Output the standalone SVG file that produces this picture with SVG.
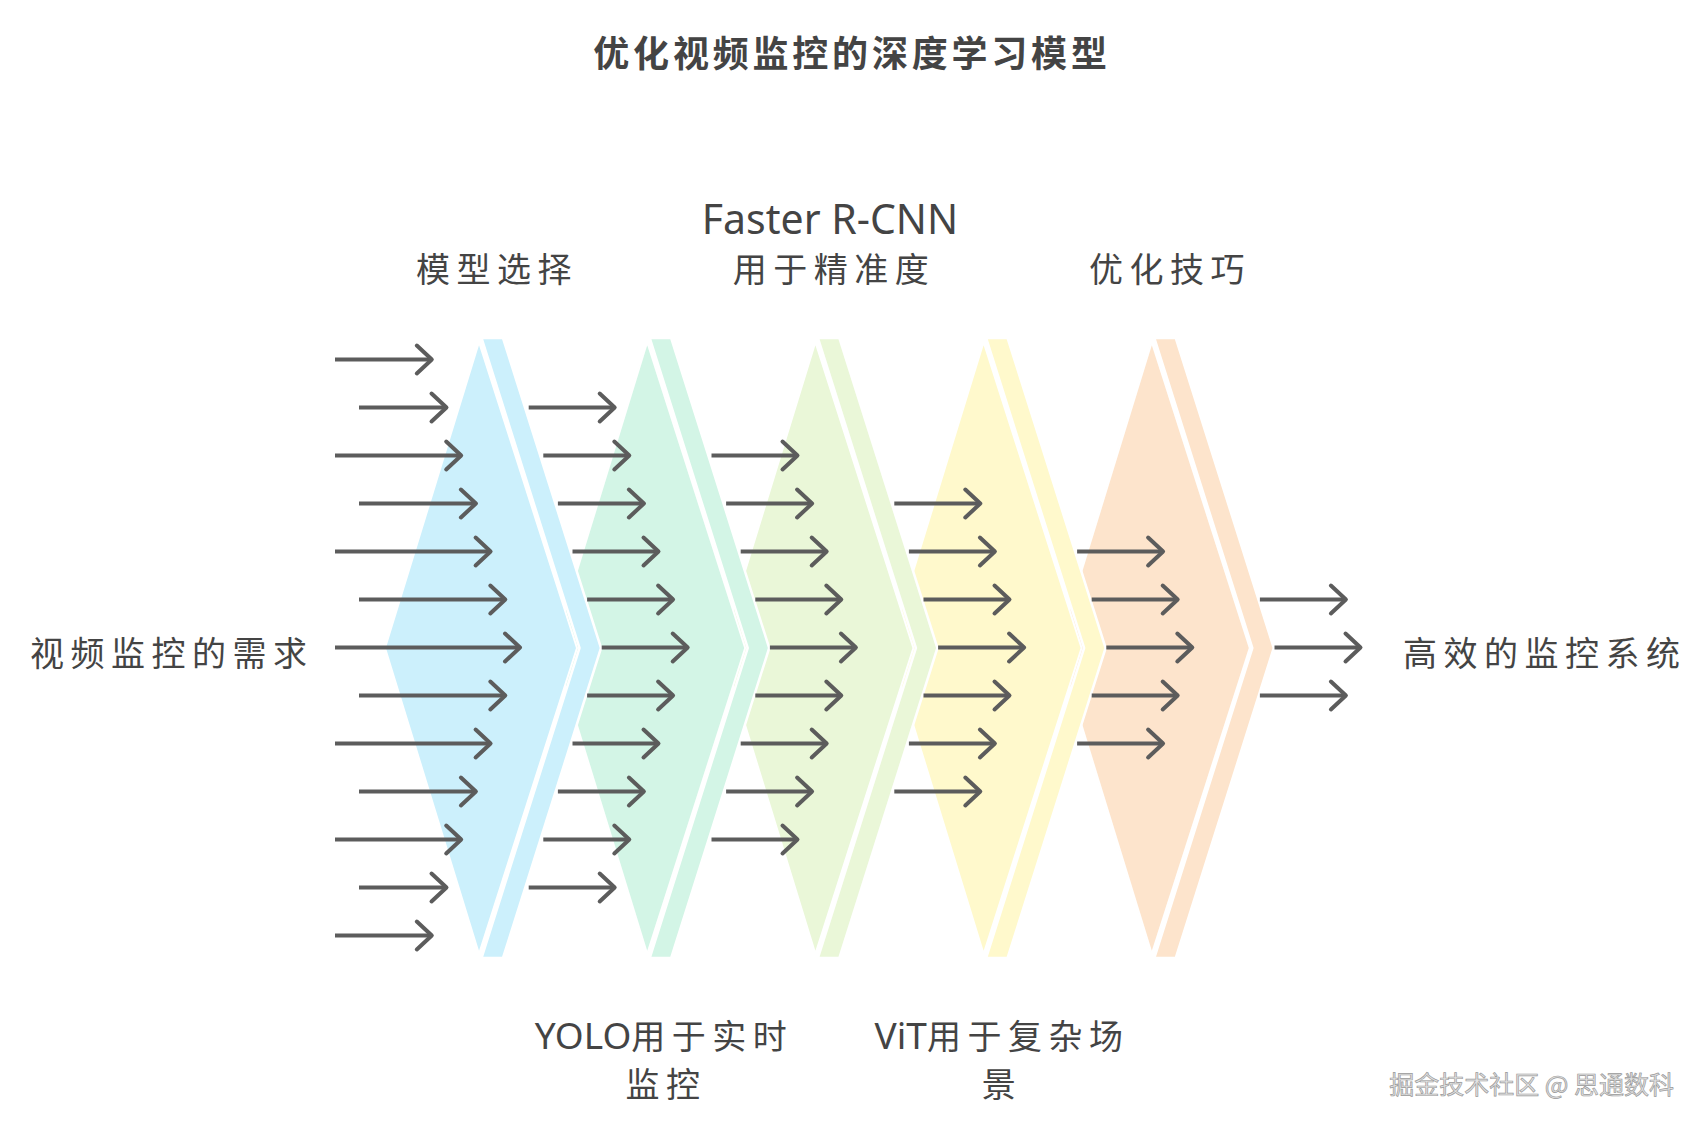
<svg xmlns="http://www.w3.org/2000/svg" width="1704" height="1129" viewBox="0 0 1704 1129">
<style>
.main{stroke:#ffffff;stroke-width:2;stroke-linejoin:round}
.band{stroke:#ffffff;stroke-width:2.5;stroke-linejoin:round}
.c0{fill:#ccf0fc}.c1{fill:#d3f5e6}.c2{fill:#eaf7d8}.c3{fill:#fff9cc}.c4{fill:#fde4cc}
.arr line{stroke:#5c5c5c;stroke-width:4;marker-end:url(#ah)}
.lbl{font-family:"Noto Sans CJK SC","Noto Sans",sans-serif;font-size:34px;fill:#444444;letter-spacing:6.5px}
.lat{font-family:"Noto Sans","Noto Sans CJK SC",sans-serif;font-size:41px;fill:#444444}
.title{font-family:"Noto Sans CJK SC",sans-serif;font-size:36px;font-weight:bold;fill:#444444;letter-spacing:3.8px}
.wm{font-family:"Noto Sans CJK SC",sans-serif;font-size:25px;fill:#e2e2e2;stroke:#9a9a9a;stroke-width:0.7px}
</style>
<defs>
<marker id="ah" markerUnits="userSpaceOnUse" viewBox="-19 -17 22 34" refX="0" refY="0" markerWidth="22" markerHeight="34" orient="auto" overflow="visible">
<path d="M-15,-14 L0,0 L-15,14" fill="none" stroke="#5c5c5c" stroke-width="4" stroke-linecap="round" stroke-linejoin="round"/>
</marker>
<polygon id="mainShape" points="479,342 577,648 479,954 385,648"/>
<polygon id="bandShape" points="481.5,338 503,338 601,648 503,958 481.5,958 579.5,648"/>
</defs>
<rect width="1704" height="1129" fill="#ffffff"/>

<g id="title"><text class="title" x="852" y="67" text-anchor="middle">优化视频监控的深度学习模型</text></g>

<g id="chevrons">
<g id="stage5" transform="translate(672.8,0)"><use href="#mainShape" class="main c4"/><use href="#bandShape" class="band c4"/></g>
<g id="stage4" transform="translate(504.6,0)"><use href="#mainShape" class="main c3"/><use href="#bandShape" class="band c3"/></g>
<g id="stage3" transform="translate(336.4,0)"><use href="#mainShape" class="main c2"/><use href="#bandShape" class="band c2"/></g>
<g id="stage2" transform="translate(168.2,0)"><use href="#mainShape" class="main c1"/><use href="#bandShape" class="band c1"/></g>
<g id="stage1"><use href="#mainShape" class="main c0"/><use href="#bandShape" class="band c0"/></g>
</g>

<g id="connectors" class="arr">
<line x1="335" y1="359.5" x2="431.8" y2="359.5"/>
<line x1="359" y1="407.5" x2="446.5" y2="407.5"/>
<line x1="335" y1="455.5" x2="461.2" y2="455.5"/>
<line x1="359" y1="503.5" x2="475.9" y2="503.5"/>
<line x1="335" y1="551.5" x2="490.6" y2="551.5"/>
<line x1="359" y1="599.5" x2="505.3" y2="599.5"/>
<line x1="335" y1="647.5" x2="520" y2="647.5"/>
<line x1="359" y1="695.5" x2="505.3" y2="695.5"/>
<line x1="335" y1="743.5" x2="490.6" y2="743.5"/>
<line x1="359" y1="791.5" x2="475.9" y2="791.5"/>
<line x1="335" y1="839.5" x2="461.2" y2="839.5"/>
<line x1="359" y1="887.5" x2="446.5" y2="887.5"/>
<line x1="335" y1="935.5" x2="431.8" y2="935.5"/>

<line x1="528.7" y1="407.5" x2="614.7" y2="407.5"/>
<line x1="543.3" y1="455.5" x2="629.3" y2="455.5"/>
<line x1="557.9" y1="503.5" x2="643.9" y2="503.5"/>
<line x1="572.5" y1="551.5" x2="658.5" y2="551.5"/>
<line x1="587.1" y1="599.5" x2="673.1" y2="599.5"/>
<line x1="601.7" y1="647.5" x2="687.7" y2="647.5"/>
<line x1="587.1" y1="695.5" x2="673.1" y2="695.5"/>
<line x1="572.5" y1="743.5" x2="658.5" y2="743.5"/>
<line x1="557.9" y1="791.5" x2="643.9" y2="791.5"/>
<line x1="543.3" y1="839.5" x2="629.3" y2="839.5"/>
<line x1="528.7" y1="887.5" x2="614.7" y2="887.5"/>

<line x1="711.5" y1="455.5" x2="797.5" y2="455.5"/>
<line x1="726.1" y1="503.5" x2="812.1" y2="503.5"/>
<line x1="740.7" y1="551.5" x2="826.7" y2="551.5"/>
<line x1="755.3" y1="599.5" x2="841.3" y2="599.5"/>
<line x1="769.9" y1="647.5" x2="855.9" y2="647.5"/>
<line x1="755.3" y1="695.5" x2="841.3" y2="695.5"/>
<line x1="740.7" y1="743.5" x2="826.7" y2="743.5"/>
<line x1="726.1" y1="791.5" x2="812.1" y2="791.5"/>
<line x1="711.5" y1="839.5" x2="797.5" y2="839.5"/>

<line x1="894.3" y1="503.5" x2="980.3" y2="503.5"/>
<line x1="908.9" y1="551.5" x2="994.9" y2="551.5"/>
<line x1="923.5" y1="599.5" x2="1009.5" y2="599.5"/>
<line x1="938.1" y1="647.5" x2="1024.1" y2="647.5"/>
<line x1="923.5" y1="695.5" x2="1009.5" y2="695.5"/>
<line x1="908.9" y1="743.5" x2="994.9" y2="743.5"/>
<line x1="894.3" y1="791.5" x2="980.3" y2="791.5"/>

<line x1="1077.1" y1="551.5" x2="1163.1" y2="551.5"/>
<line x1="1091.7" y1="599.5" x2="1177.7" y2="599.5"/>
<line x1="1106.3" y1="647.5" x2="1192.3" y2="647.5"/>
<line x1="1091.7" y1="695.5" x2="1177.7" y2="695.5"/>
<line x1="1077.1" y1="743.5" x2="1163.1" y2="743.5"/>

<line x1="1259.9" y1="599.5" x2="1345.9" y2="599.5"/>
<line x1="1274.5" y1="647.5" x2="1360.5" y2="647.5"/>
<line x1="1259.9" y1="695.5" x2="1345.9" y2="695.5"/>
</g>

<g id="label-input"><text class="lbl" x="30" y="666">视频监控的需求</text></g>
<g id="label-output"><text class="lbl" x="1403" y="666">高效的监控系统</text></g>
<g id="label-stage1"><text class="lbl" x="497" y="282" text-anchor="middle">模型选择</text></g>
<g id="label-stage2">
<text class="lbl" x="664" y="1049" text-anchor="middle"><tspan class="lat" style="font-size:37px;letter-spacing:0">YOLO</tspan>用于实时</text>
<text class="lbl" x="666" y="1097" text-anchor="middle">监控</text>
</g>
<g id="label-stage3">
<text class="lat" x="830" y="234" text-anchor="middle">Faster R-CNN</text>
<text class="lbl" x="834" y="282" text-anchor="middle">用于精准度</text>
</g>
<g id="label-stage4">
<text class="lbl" x="1002" y="1049" text-anchor="middle"><tspan class="lat" style="font-size:37px;letter-spacing:0">ViT</tspan>用于复杂场</text>
<text class="lbl" x="1002" y="1097" text-anchor="middle">景</text>
</g>
<g id="label-stage5"><text class="lbl" x="1170" y="282" text-anchor="middle">优化技巧</text></g>

<g id="watermark"><text class="wm" x="1674" y="1094" text-anchor="end">掘金技术社区 @ 思通数科</text></g>
</svg>
